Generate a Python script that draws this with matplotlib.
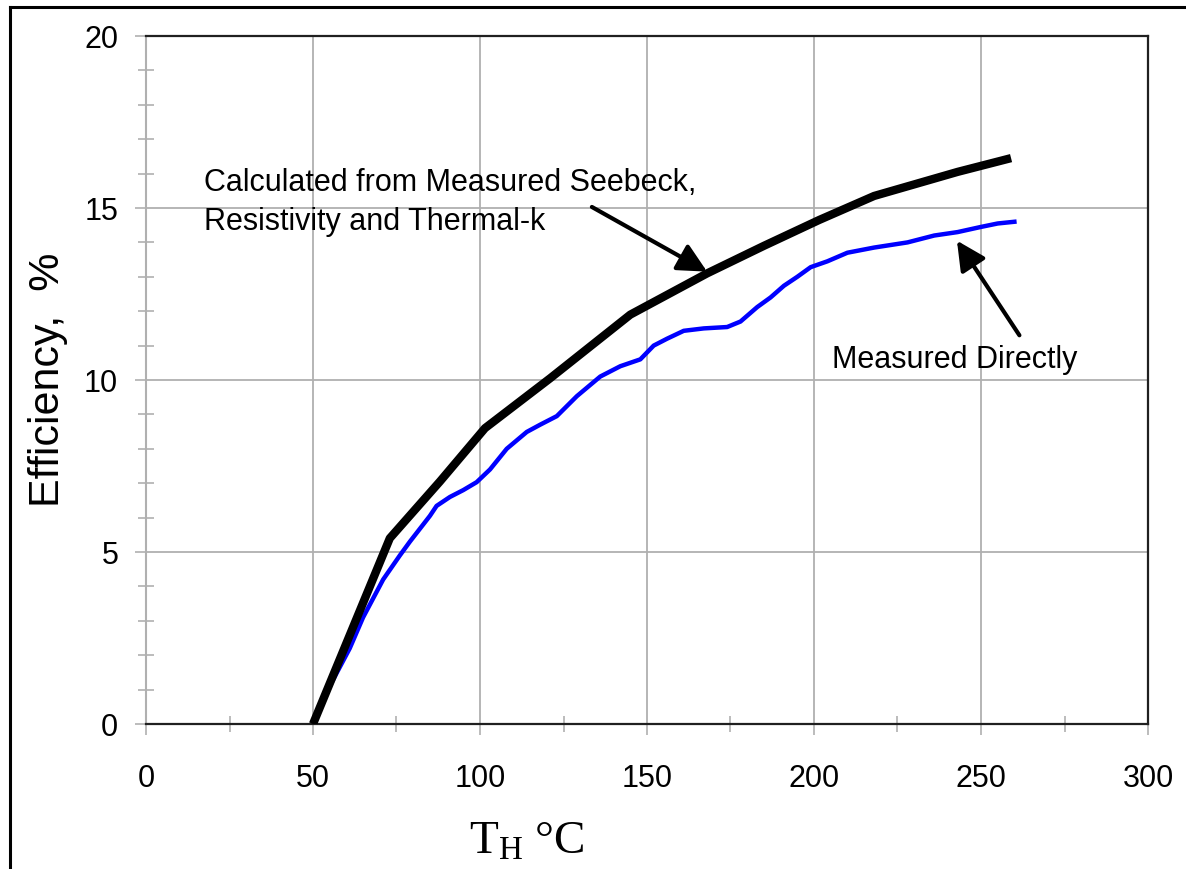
import matplotlib
matplotlib.use("Agg")
import matplotlib.pyplot as plt
from matplotlib.lines import Line2D

# Calculated efficiency (from Seebeck, resistivity, thermal-k)
calc_T = [50, 73, 88, 101.5, 121, 145, 168, 185, 201.5, 218, 243, 259]
calc_E = [0, 5.4, 7.05, 8.6, 10.05, 11.9, 13.1, 13.9, 14.65, 15.35, 16.05, 16.45]

# Measured directly
meas_T = [50, 55, 61, 65, 71, 76, 79, 85, 87, 91, 95, 99, 103, 108, 114, 118, 123,
          129, 136, 142, 148, 152, 156, 161, 167, 174, 178, 183, 187, 191, 195,
          199, 204, 210, 218, 228, 236, 243, 250, 255, 260]
meas_E = [0, 1.1, 2.2, 3.1, 4.2, 4.9, 5.3, 6.05, 6.34, 6.6, 6.8, 7.03, 7.4, 8.0, 8.49,
          8.7, 8.95, 9.53, 10.1, 10.4, 10.6, 11.0, 11.2, 11.43, 11.5, 11.54, 11.7,
          12.12, 12.4, 12.74, 13.0, 13.28, 13.45, 13.7, 13.85, 14.0, 14.2, 14.3,
          14.45, 14.55, 14.6]

x_ticks = [0, 50, 100, 150, 200, 250, 300]
y_ticks = [0, 5, 10, 15, 20]

plt.rcParams['font.family'] = 'Liberation Sans'
plt.rcParams['mathtext.fontset'] = 'custom'
plt.rcParams['mathtext.rm'] = 'Liberation Serif'
plt.rcParams['mathtext.it'] = 'Liberation Serif'

fig = plt.figure(figsize=(11.86, 8.70), dpi=100)
ax = fig.add_axes([146/1186, 145/870, (1148-146)/1186, (725-37)/870])

gridc = '#b0b0b0'
ax.plot(calc_T, calc_E, color='black', lw=6, solid_capstyle='butt', zorder=3)
ax.plot(meas_T, meas_E, color='#0000ff', lw=3.2, zorder=2)

ax.set_xlim(0, 300)
ax.set_ylim(0, 20)
ax.set_xticks(x_ticks)
ax.set_yticks(y_ticks)
ax.set_xticks(range(25, 300, 50), minor=True)
ax.set_yticks([v for v in range(1, 20) if v % 5 != 0], minor=True)
ax.grid(which='major', color=gridc, lw=1.3)
ax.set_axisbelow(True)

ax.tick_params(which='major', direction='out', length=8, width=1.2, color=gridc,
               labelsize=22, labelcolor='black')
ax.tick_params(axis='y', which='major', pad=12)
ax.tick_params(axis='x', which='major', pad=20)
ax.tick_params(which='minor', direction='inout', length=12, width=1.2, color=gridc)

ax.spines['left'].set_color(gridc)
ax.spines['left'].set_linewidth(1.5)
for s in ['top', 'right', 'bottom']:
    ax.spines[s].set_color('#202020')
    ax.spines[s].set_linewidth(1.6)

fig.text(48/1186, 1 - 380/870, 'Efficiency,  %', fontsize=31, rotation=90,
         ha='center', va='center')
fig.text(527/1186, 1 - 842/870, r'T$_\mathrm{H}$ °C', fontsize=34,
         family='Liberation Serif', ha='center', va='center')

arrow = dict(arrowstyle='-|>,head_length=1.1,head_width=0.55', color='black',
             lw=3, shrinkA=0, shrinkB=0, mutation_scale=16)
ax.text(17.4, 15.19, 'Calculated from Measured Seebeck,\nResistivity and Thermal-k',
        fontsize=22, ha='left', va='center', linespacing=1.38)
ax.annotate('', xy=(168, 13.15), xytext=(133.5, 15.03), arrowprops=arrow, zorder=5)
ax.annotate('', xy=(242.8, 14.05), xytext=(261.5, 11.3), arrowprops=arrow, zorder=5)
ax.text(205.5, 10.6, 'Measured Directly', fontsize=22, ha='left', va='center')

# outer frame (left and top edges)
fig.add_artist(Line2D([10/1186, 10/1186], [0, 862/870], color='black', lw=2.2))
fig.add_artist(Line2D([10/1186, 1], [862/870, 862/870], color='black', lw=2.2))

fig.savefig('out.png', dpi=100)
